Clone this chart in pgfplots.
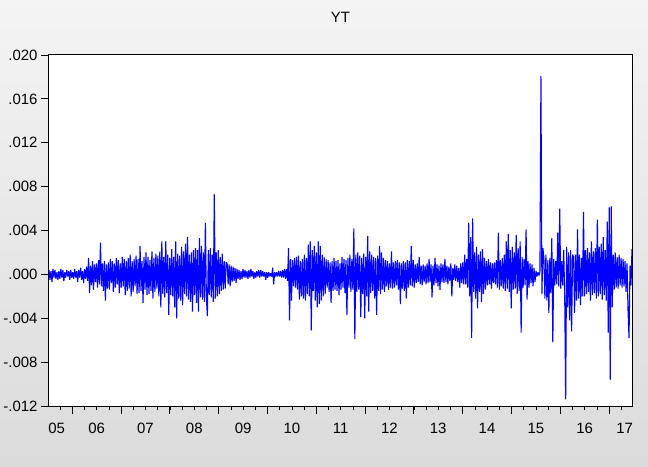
\documentclass[border=0pt]{standalone}
\usepackage{fontspec}
\setmainfont{Liberation Sans}
\usepackage{pgfplots}
\usepackage{pgfplotstable}
\pgfplotsset{compat=1.18}

\definecolor{bgtop}{RGB}{244,244,244}
\definecolor{bgbot}{RGB}{219,219,219}
\definecolor{ytblue}{RGB}{0,0,255}

% YT, units of 1e-4 (about one value per pixel column)
\pgfplotstableread[row sep=\\]{
v\\
4\\ -5\\ 3\\ -7\\ 5\\ -3\\ 4\\ -4\\ 2\\ -5\\
3\\ -4\\ 5\\ -3\\ 4\\ -6\\ 2\\ -3\\ 4\\ -2\\
3\\ -5\\ 4\\ -3\\ 2\\ -4\\ 5\\ -3\\ 3\\ -7\\
4\\ -3\\ 6\\ -5\\ 3\\ -8\\ 5\\ -4\\ 7\\ -6\\
15\\ -17\\ 8\\ -10\\ 12\\ -14\\ 9\\ -7\\ 10\\ -12\\
13\\ -9\\ 29\\ -11\\ 10\\ -15\\ 12\\ -24\\ 9\\ -13\\
11\\ -14\\ 14\\ -8\\ 12\\ -16\\ 10\\ -12\\ 15\\ -9\\
13\\ -17\\ 10\\ -12\\ 16\\ -11\\ 14\\ -19\\ 12\\ -15\\
15\\ -13\\ 18\\ -20\\ 12\\ -16\\ 14\\ -11\\ 17\\ -18\\
14\\ -17\\ 26\\ -15\\ 12\\ -26\\ 16\\ -14\\ 20\\ -19\\
16\\ -18\\ 13\\ -15\\ 21\\ -22\\ 15\\ -16\\ 19\\ -13\\
17\\ -20\\ 21\\ -30\\ 30\\ -18\\ 16\\ -21\\ 30\\ -17\\
18\\ -37\\ 15\\ -19\\ 23\\ -20\\ 16\\ -30\\ 30\\ -40\\
19\\ -22\\ 17\\ -24\\ 25\\ -28\\ 21\\ -18\\ 28\\ -20\\
34\\ -23\\ 18\\ -25\\ 20\\ -34\\ 22\\ -19\\ 24\\ -26\\
22\\ -34\\ 33\\ -21\\ 26\\ -23\\ 20\\ -25\\ 47\\ -21\\
-38\\ 22\\ -19\\ 24\\ -21\\ 18\\ -25\\ 73\\ -22\\ 20\\
-20\\ 22\\ -18\\ 16\\ -15\\ 19\\ -14\\ 12\\ -13\\ 11\\
10\\ -9\\ 9\\ -11\\ 8\\ -7\\ 7\\ -6\\ 6\\ -8\\
5\\ -4\\ 4\\ -5\\ 3\\ -4\\ 5\\ -3\\ 4\\ -3\\
3\\ -4\\ 4\\ -3\\ 5\\ -2\\ 3\\ -4\\ 2\\ -3\\
3\\ -2\\ 4\\ -3\\ 4\\ -2\\ 3\\ -2\\ 2\\ -5\\
2\\ -3\\ 2\\ -2\\ 1\\ -2\\ 6\\ -9\\ 2\\ -2\\
2\\ -2\\ 3\\ -2\\ 3\\ -3\\ 4\\ -3\\ 5\\ -4\\
5\\ -6\\ 24\\ -42\\ 14\\ -24\\ 13\\ -11\\ 15\\ -12\\
16\\ -14\\ 17\\ -23\\ 12\\ -20\\ 14\\ -22\\ 18\\ -24\\
15\\ -18\\ 27\\ -20\\ 30\\ -51\\ 22\\ -15\\ 26\\ -24\\
20\\ -30\\ 30\\ -27\\ 26\\ -24\\ 18\\ -20\\ 16\\ -18\\
14\\ -12\\ 13\\ -16\\ 11\\ -26\\ 12\\ -15\\ 15\\ -14\\
12\\ -15\\ 13\\ -19\\ 10\\ -14\\ 16\\ -12\\ 14\\ -17\\
13\\ -37\\ 15\\ -12\\ 18\\ -16\\ 14\\ -14\\ 42\\ -59\\
18\\ -16\\ 20\\ -14\\ 17\\ -39\\ 15\\ -18\\ 19\\ -40\\
16\\ -20\\ 35\\ -34\\ 21\\ -17\\ 18\\ -15\\ 16\\ -22\\
15\\ -37\\ 17\\ -15\\ 26\\ -18\\ 20\\ -14\\ 15\\ -16\\
13\\ -11\\ 12\\ -14\\ 10\\ -12\\ 21\\ -13\\ 11\\ -12\\
12\\ -10\\ 13\\ -14\\ 11\\ -27\\ 10\\ -13\\ 12\\ -15\\
11\\ -22\\ 13\\ -12\\ 12\\ -10\\ 26\\ -11\\ 13\\ -12\\
9\\ -8\\ 10\\ -7\\ 16\\ -9\\ 8\\ -10\\ 9\\ -7\\
8\\ -9\\ 10\\ -8\\ 14\\ -7\\ 9\\ -21\\ 8\\ -10\\
15\\ -8\\ 9\\ -11\\ 8\\ -14\\ 10\\ -7\\ 9\\ -8\\
14\\ -7\\ 8\\ -9\\ 7\\ -6\\ 10\\ -20\\ 6\\ -5\\
9\\ -6\\ 8\\ -7\\ 6\\ -12\\ 10\\ -8\\ 11\\ -9\\
18\\ -9\\ 14\\ -12\\ 47\\ -20\\ 34\\ -58\\ 51\\ -16\\
20\\ -22\\ 25\\ -31\\ 18\\ -16\\ 21\\ -25\\ 23\\ -18\\
15\\ -14\\ 12\\ -10\\ 14\\ -9\\ 11\\ -13\\ 10\\ -8\\
11\\ -9\\ 13\\ -12\\ 38\\ -14\\ 13\\ -11\\ 15\\ -13\\
18\\ -15\\ 30\\ -13\\ 37\\ -16\\ 22\\ -31\\ 25\\ -14\\
20\\ -13\\ 36\\ -18\\ 24\\ -15\\ 30\\ -53\\ 16\\ -12\\
14\\ -10\\ 41\\ -23\\ 12\\ -12\\ 10\\ -8\\ 9\\ -11\\
6\\ -7\\ 3\\ -2\\ 2\\ -1\\ 2\\ 181\\ -18\\ 24\\
15\\ -22\\ 18\\ -24\\ 13\\ -35\\ 15\\ -17\\ 33\\ -62\\
14\\ -10\\ 12\\ -9\\ 38\\ -11\\ 60\\ -13\\ 12\\ -10\\
22\\ -18\\ -114\\ 25\\ -30\\ 20\\ -42\\ 22\\ -52\\ 18\\
16\\ -35\\ 18\\ -24\\ 41\\ -22\\ 18\\ -28\\ 15\\ -20\\
57\\ -20\\ 22\\ -18\\ 24\\ -16\\ 20\\ -24\\ 30\\ -19\\
21\\ -17\\ 24\\ -22\\ 50\\ -20\\ 25\\ -18\\ 28\\ -23\\
34\\ -19\\ 22\\ -24\\ 48\\ -53\\ 61\\ -96\\ 62\\ -30\\
18\\ -14\\ 20\\ -12\\ 16\\ -13\\ 18\\ -10\\ 15\\ -12\\
14\\ -11\\ 12\\ -16\\ 10\\ -33\\ -58\\ 8\\ -10\\ 23\\
}\yt

\begin{document}
\begin{tikzpicture}
\shade[top color=bgtop, bottom color=bgbot] (-49bp,-61bp) rectangle (599bp,406bp);
\begin{axis}[
    at={(0,0)}, anchor=south west,
    scale only axis,
    width=583bp, height=351bp,
    xmin=2005.5225, xmax=2017.471,
    ymin=-120, ymax=200,
    axis background/.style={fill=white},
    axis line style={line width=1bp},
    tick align=outside, tick pos=left,
    major tick length=8bp, minor tick length=4bp,
    tick style={black, line width=0.8bp},
    tick label style={font=\fontsize{15}{18}\selectfont},
    xtick={2006,2007,2008,2009,2010,2011,2012,2013,2014,2015,2016,2017},
    xticklabels={},
    minor xtick={2005.75,2006,...,2017.25},
    extra x ticks={2005.68,2006.5,2007.5,2008.5,2009.5,2010.5,2011.5,2012.5,2013.5,2014.5,2015.5,2016.5,2017.32},
    extra x tick labels={05,06,07,08,09,10,11,12,13,14,15,16,17},
    extra x tick style={major tick length=0pt, tick style={draw=none},
        xticklabel style={yshift=-14bp}},
    ytick={-120,-80,-40,0,40,80,120,160,200},
    yticklabels={-.012,-.008,-.004,.000,.004,.008,.012,.016,.020},
    title={YT},
    title style={font=\fontsize{15}{18}\selectfont, at={(0.5,1)}, anchor=center, yshift=32bp},
]
\addplot[ytblue, line width=1.1bp, line join=bevel, no markers] table[x expr=2005.5225+\coordindex*0.020286, y=v] {\yt};
\end{axis}
\end{tikzpicture}
\end{document}
